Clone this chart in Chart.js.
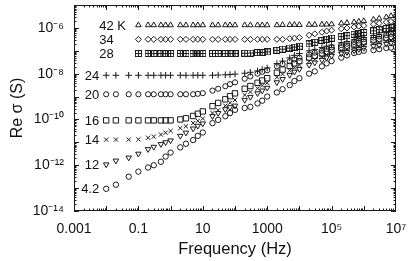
<!DOCTYPE html>
<html>
<head>
<meta charset="utf-8">
<script src="https://cdn.jsdelivr.net/npm/chart.js@4.4.1/dist/chart.umd.min.js"></script>
<style>
    html, body { margin: 0; padding: 0; background: #fff; }
    #wrap { width: 409px; height: 261px; }
</style>
</head>
<body>
<div id="wrap"><canvas id="chart"></canvas></div>
<script>
// frequency grid (Hz) shared by every temperature
const frequencies = [0.01, 0.02, 0.05, 0.1, 0.2, 0.3, 0.5, 0.7, 1, 2, 3, 5, 7, 10,
    20, 30, 50, 70, 100, 200, 300, 500, 700, 1e3, 2e3, 3e3, 5e3, 7e3, 1e4,
    2e4, 3e4, 5e4, 7e4, 1e5, 2e5, 3e5, 5e5, 7e5, 1e6, 2e6, 3e6, 5e6, 7e6, 1e7];

// log10 of Re sigma (S), one value per frequency
const t42 = [null, null, null, -5.88, -5.88, -5.88, -5.88, -5.88, -5.88, -5.88, -5.88, -5.88, -5.88, -5.88,
    -5.88, -5.88, -5.88, -5.88, -5.88, -5.88, -5.88, -5.88, -5.88, -5.88, -5.88, -5.87, -5.87, -5.86, -5.87,
    -5.86, -5.86, -5.85, -5.85, -5.84, -5.8, -5.78, -5.75, -5.72, -5.7, -5.63, -5.59, -5.53, -5.48, -5.44];
const t34 = [null, null, null, -6.5, -6.5, -6.5, -6.5, -6.5, -6.5, -6.5, -6.5, -6.5, -6.5, -6.5,
    -6.5, -6.5, -6.5, -6.5, -6.5, -6.5, -6.5, -6.5, -6.5, -6.5, -6.5, -6.5, -6.47, -6.45, -6.42,
    -6.32, -6.26, -6.19, -6.14, -6.1, -6.04, -6.01, -5.96, -5.93, -5.9, -5.84, -5.8, -5.75, -5.72, -5.68];
const t28 = [null, null, null, -7.12, -7.12, -7.12, -7.12, -7.12, -7.12, -7.12, -7.12, -7.12, -7.12, -7.12,
    -7.12, -7.12, -7.12, -7.12, -7.12, -7.11, -7.1, -7.08, -7.07, -7.05, -6.98, -6.93, -6.88, -6.84, -6.8,
    -6.7, -6.63, -6.55, -6.5, -6.45, -6.38, -6.34, -6.28, -6.24, -6.2, -6.13, -6.08, -6.03, -5.99, -5.95];
const t24 = [-8.07, -8.07, -8.07, -8.07, -8.07, -8.07, -8.07, -8.07, -8.07, -8.07, -8.07, -8.07, -8.07, -8.07,
    -8.07, -8.06, -8.05, -8.04, -8.02, -7.98, -7.94, -7.88, -7.82, -7.75, -7.56, -7.45, -7.31, -7.2, -7.12,
    -7.0, -6.94, -6.86, -6.8, -6.75, -6.65, -6.6, -6.52, -6.47, -6.42, -6.33, -6.28, -6.21, -6.16, -6.12];
const t20 = [-8.9, -8.9, -8.9, -8.9, -8.9, -8.9, -8.9, -8.9, -8.9, -8.9, -8.9, -8.9, -8.88, -8.85,
    -8.74, -8.66, -8.55, -8.46, -8.38, -8.22, -8.12, -8.0, -7.92, -7.85, -7.68, -7.58, -7.46, -7.38, -7.3,
    -7.16, -7.08, -6.99, -6.92, -6.85, -6.75, -6.69, -6.61, -6.55, -6.5, -6.42, -6.37, -6.31, -6.26, -6.22];
const t16 = [-10.04, -10.04, -10.04, -10.04, -10.04, -10.04, -10.04, -10.04, -10.04, -10.0, -9.95, -9.85, -9.75, -9.65,
    -9.42, -9.28, -9.12, -8.98, -8.86, -8.66, -8.54, -8.4, -8.3, -8.2, -7.96, -7.82, -7.66, -7.55, -7.45,
    -7.3, -7.22, -7.12, -7.04, -6.98, -6.87, -6.81, -6.73, -6.67, -6.62, -6.54, -6.5, -6.44, -6.4, -6.36];
const t14 = [-10.88, -10.88, -10.88, -10.87, -10.8, -10.75, -10.66, -10.58, -10.5, -10.38, -10.3, -10.16, -10.06, -9.96,
    -9.72, -9.6, -9.4, -9.27, -9.15, -8.93, -8.8, -8.64, -8.52, -8.4, -8.16, -8.02, -7.86, -7.74, -7.62,
    -7.46, -7.37, -7.26, -7.17, -7.1, -6.99, -6.93, -6.85, -6.8, -6.75, -6.67, -6.63, -6.57, -6.53, -6.5];
const t12 = [-11.97, -11.8, -11.67, -11.5, -11.3, -11.2, -11.08, -11.0, -10.92, -10.72, -10.58, -10.4, -10.28, -10.18,
    -9.86, -9.72, -9.56, -9.47, -9.4, -9.15, -9.02, -8.86, -8.74, -8.62, -8.38, -8.24, -8.06, -7.92, -7.8,
    -7.62, -7.52, -7.4, -7.3, -7.22, -7.12, -7.06, -6.99, -6.93, -6.88, -6.8, -6.76, -6.7, -6.66, -6.62];
const t4 = [-13.03, -12.85, -12.5, -12.28, -12.1, -12.0, -11.85, -11.62, -11.45, -11.22, -11.06, -10.9, -10.72, -10.57,
    -10.16, -10.02, -9.86, -9.72, -9.58, -9.5, -9.45, -9.3, -9.18, -9.0, -8.82, -8.68, -8.5, -8.32, -8.2,
    -8.0, -7.9, -7.68, -7.55, -7.45, -7.3, -7.2, -7.1, -7.05, -7.0, -6.97, -6.93, -6.88, -6.86, -6.84];

const temperatures = ["42 K", "34", "28", "24", "20", "16", "14", "12", "4.2"];
const seriesValues = [t42, t34, t28, t24, t20, t16, t14, t12, t4];

const xTickValues = [1e-3, 1e-1, 1e1, 1e3, 1e5, 1e7];
const yTickValues = [1e-14, 1e-12, 1e-10, 1e-8, 1e-6];

const FONT = "'Liberation Sans', Arial, Helvetica, sans-serif";
const INK = "#1a1a1a";

const SUP = { "-": "\u207B", "0": "\u2070", "1": "\u00B9", "2": "\u00B2", "3": "\u00B3", "4": "\u2074",
    "5": "\u2075", "6": "\u2076", "7": "\u2077", "8": "\u2078", "9": "\u2079" };

function powerLabel(value) {
    const e = Math.round(Math.log10(value));
    return "10" + String(e).split("").map(c => SUP[c]).join("");
}

function xLabel(value) {
    const e = Math.round(Math.log10(value));
    if (e < 0) return value.toFixed(-e);
    if (e <= 3) return String(Math.round(value));
    return powerLabel(value);
}

// boxed plus marker for the 28 K points
function boxPlus() {
    const c = document.createElement("canvas");
    c.width = 7; c.height = 7;
    const g = c.getContext("2d");
    g.strokeStyle = INK;
    g.lineWidth = 1;
    g.strokeRect(0.5, 0.5, 6, 6);
    g.beginPath();
    g.moveTo(3.5, 1); g.lineTo(3.5, 6);
    g.moveTo(1, 3.5); g.lineTo(6, 3.5);
    g.stroke();
    return c;
}

const markers = [
    { pointStyle: "triangle", radius: 3.2 },
    { pointStyle: "rectRot", radius: 3 },
    { pointStyle: boxPlus(), radius: 3.5 },
    { pointStyle: "cross", radius: 3.3 },
    { pointStyle: "circle", radius: 2.6 },
    { pointStyle: "rect", radius: 3.8 },
    { pointStyle: "crossRot", radius: 3 },
    { pointStyle: "triangle", radius: 3.2, rotation: 180 },
    { pointStyle: "circle", radius: 2.7 }
];

const datasets = seriesValues.map((vals, k) => {
    const points = [];
    vals.forEach((v, i) => {
        if (v !== null) points.push({ x: frequencies[i], y: 10 ** v });
    });
    return {
        label: temperatures[k],
        data: points,
        pointStyle: markers[k].pointStyle,
        pointRadius: markers[k].radius,
        pointRotation: markers[k].rotation || 0,
        pointBorderWidth: 1,
        borderColor: INK,
        backgroundColor: "rgba(0,0,0,0)",
        showLine: false
    };
});

// frame with inward ticks on all four sides, plus the temperature labels
const frameTicks = {
    id: "frameTicks",
    afterDraw(chart) {
        const { ctx, chartArea: a, scales } = chart;
        const x = scales.x, y = scales.y;
        ctx.save();
        ctx.strokeStyle = INK;
        ctx.lineWidth = 1;
        ctx.strokeRect(a.left + 0.5, a.top + 0.5, a.right - a.left - 1, a.bottom - a.top - 1);
        ctx.beginPath();
        for (let e = -3; e < 7; e++) {
            for (let m = 1; m < 10; m++) {
                const px = Math.round(x.getPixelForValue(m * 10 ** e)) + 0.5;
                const len = m === 1 ? 5 : 2.5;
                ctx.moveTo(px, a.bottom); ctx.lineTo(px, a.bottom - len);
                ctx.moveTo(px, a.top); ctx.lineTo(px, a.top + len);
            }
        }
        for (let e = -14; e < -5; e++) {
            for (let m = 1; m < 10; m++) {
                const py = Math.round(y.getPixelForValue(m * 10 ** e)) + 0.5;
                const len = m === 1 ? 5 : 2.5;
                ctx.moveTo(a.left, py); ctx.lineTo(a.left + len, py);
                ctx.moveTo(a.right, py); ctx.lineTo(a.right - len, py);
            }
        }
        ctx.stroke();

        ctx.fillStyle = "#111";
        ctx.font = "13px " + FONT;
        ctx.textBaseline = "middle";
        const anchor = x.getPixelForValue(frequencies[0]) - 7;
        seriesValues.forEach((vals, k) => {
            const first = vals.find(v => v !== null);
            const py = y.getPixelForValue(10 ** first);
            ctx.textAlign = k < 3 ? "left" : "right";
            ctx.fillText(temperatures[k], anchor, py + 1);
        });
        ctx.restore();
    }
};

new Chart(document.getElementById("chart"), {
    type: "scatter",
    data: { datasets: datasets },
    options: {
        responsive: true,
        maintainAspectRatio: false,
        animation: false,
        layout: { padding: { top: 5, right: 13, left: 0, bottom: 0 } },
        plugins: {
            legend: { display: false },
            tooltip: { enabled: false }
        },
        scales: {
            x: {
                type: "logarithmic",
                min: 1e-3,
                max: 1e7,
                grid: { display: false, drawTicks: false },
                border: { display: false },
                afterBuildTicks: scale => { scale.ticks = xTickValues.map(v => ({ value: v })); },
                afterFit: scale => {
                    scale.height = 50;
                    scale.paddingLeft = 0;
                    scale.paddingRight = 0;
                },
                ticks: {
                    autoSkip: false,
                    maxRotation: 0,
                    padding: 10,
                    color: "#111",
                    font: { family: FONT, size: 14 },
                    callback: value => xLabel(value)
                },
                title: {
                    display: true,
                    text: "Frequency (Hz)",
                    color: "#111",
                    font: { family: FONT, size: 16.5 },
                    padding: { top: 0, bottom: 2 }
                }
            },
            y: {
                type: "logarithmic",
                min: 1e-14,
                max: 1e-5,
                grid: { display: false, drawTicks: false },
                border: { display: false },
                afterBuildTicks: scale => { scale.ticks = yTickValues.map(v => ({ value: v })); },
                afterFit: scale => {
                    scale.width = 74;
                    scale.paddingTop = 0;
                    scale.paddingBottom = 0;
                },
                ticks: {
                    autoSkip: false,
                    padding: 10,
                    color: "#111",
                    font: { family: FONT, size: 14 },
                    callback: value => powerLabel(value)
                },
                title: {
                    display: true,
                    text: "Re \u03C3 (S)",
                    color: "#111",
                    font: { family: FONT, size: 16 },
                    padding: { top: 8, bottom: 0 }
                }
            }
        }
    },
    plugins: [frameTicks]
});
</script>
</body>
</html>
